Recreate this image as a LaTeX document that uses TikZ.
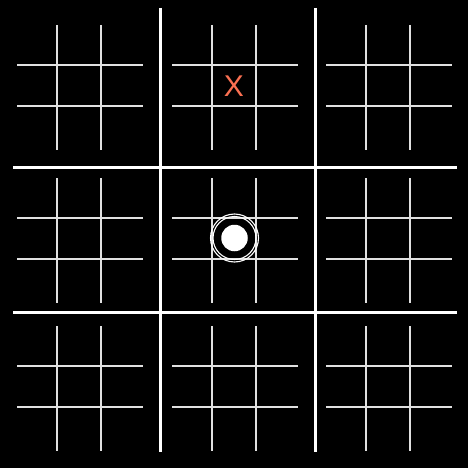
\documentclass[tikz,border=0pt]{standalone}
\usepackage{fontspec}
\setsansfont{Liberation Sans}
\usetikzlibrary{positioning}
\definecolor{markx}{RGB}{250,112,82}
\tikzset{
  major/.style={line width=3pt, white},
  minor/.style={line width=1.1pt, white!88!black},
  xmark/.style={font=\sffamily\fontsize{30}{30}\selectfont, text=markx, inner sep=0pt},
  odisk/.style={circle, fill=white, minimum size=26.5pt, inner sep=0pt},
  oring/.style={circle, draw=white, line width=1.1pt, inner sep=0pt},
}
\begin{document}
\begin{tikzpicture}[x=1pt,y=-1pt]
\fill[black] (0,0) rectangle (468,468);
\useasboundingbox (0,0) rectangle (468,468);
% small boards
\foreach \L in {17,172,326} {
  \foreach \T in {25,178,326} {
    \draw[minor] (\L+40,\T) -- (\L+40,\T+125);
    \draw[minor] (\L+84,\T) -- (\L+84,\T+125);
    \draw[minor] (\L,\T+40) -- (\L+126,\T+40);
    \draw[minor] (\L,\T+81) -- (\L+126,\T+81);
  }
}
% big board
\foreach \x in {160.5,315} \draw[major] (\x,8) -- (\x,452);
\foreach \y in {167,312} \draw[major] (13,\y) -- (457,\y);
% marks
\node[xmark] (xtop) at (234,86) {X};
\node[odisk] (ocenter) at (234.5,238) {};
\node[oring, minimum size=43pt] (oinner) at (ocenter) {};
\node[oring, minimum size=48pt] (oouter) at (ocenter) {};
\end{tikzpicture}
\end{document}
